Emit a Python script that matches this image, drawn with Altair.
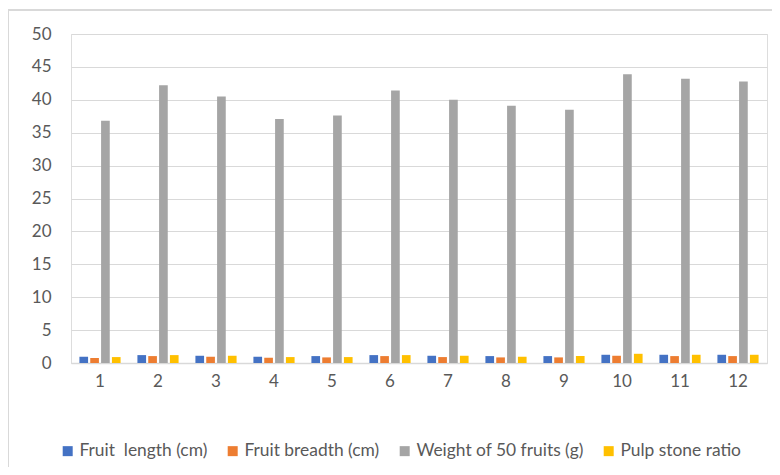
import altair as alt
import pandas as pd

categories = [str(i) for i in range(1, 13)]
series = ["Fruit\u00a0 length (cm)", "Fruit breadth (cm)", "Weight of 50 fruits (g)", "Pulp stone ratio"]
fruit_length = [0.95, 1.2, 1.1, 0.95, 1.05, 1.2, 1.1, 1.05, 1.05, 1.25, 1.25, 1.25]
fruit_breadth = [0.76, 1.05, 0.95, 0.8, 0.85, 1.05, 0.9, 0.85, 0.85, 1.1, 1.05, 1.05]
weight_50 = [36.8, 42.2, 40.5, 37.1, 37.6, 41.4, 40.0, 39.1, 38.5, 43.9, 43.2, 42.8]
pulp_stone = [0.9, 1.2, 1.1, 0.9, 0.9, 1.2, 1.1, 0.95, 1.05, 1.4, 1.25, 1.25]
colors = ["#4472C4", "#ED7D31", "#A5A5A5", "#FFC000"]

rows = []
for s, vals in zip(series, [fruit_length, fruit_breadth, weight_50, pulp_stone]):
    for c, v in zip(categories, vals):
        rows.append({"cat": c, "series": s, "value": v})
df = pd.DataFrame(rows)

FONT = "Lato"
FS = 17
LFS = 17.4
W, H = 696, 329

bars = alt.Chart(df).mark_bar().encode(
    x=alt.X("cat:N", sort=categories, title=None,
            scale=alt.Scale(paddingInner=0.29, paddingOuter=0.145),
            axis=alt.Axis(labelAngle=0, domainColor="#d9d9d9", domainWidth=1.5, ticks=False,
                          labelPadding=10, labelFontSize=FS, labelColor="#595959",
                          labelFont=FONT)),
    xOffset=alt.XOffset("series:N", sort=series, scale=alt.Scale(paddingInner=0.2)),
    y=alt.Y("value:Q", title=None,
            scale=alt.Scale(domain=[0, 50], nice=False),
            axis=alt.Axis(values=list(range(0, 51, 5)), domain=False, ticks=False,
                          gridColor="#d9d9d9", gridWidth=1.2, labelPadding=20,
                          labelFontSize=FS, labelColor="#595959", labelFont=FONT)),
    color=alt.Color("series:N", sort=series,
                    scale=alt.Scale(domain=series, range=colors),
                    legend=alt.Legend(title=None, orient="none", direction="horizontal",
                                      legendX=-12, legendY=408, symbolType="square",
                                      symbolSize=100, symbolStrokeWidth=0,
                                      labelFontSize=LFS, labelColor="#595959",
                                      labelFont=FONT, columnPadding=16, labelLimit=300,
                                      symbolOffset=0, labelOffset=3)),
)

border = alt.Chart(df).mark_rect(fill=None, stroke="#d9d9d9", strokeWidth=1.5).encode(
    x=alt.value(-63), x2=alt.value(W + 30), y=alt.value(-24), y2=alt.value(H + 150)
)

chart = alt.layer(bars, border).properties(
    width=W, height=H,
    autosize=alt.AutoSizeParams(type="none"),
    padding={"left": 63, "top": 26, "right": 5, "bottom": 104},
).configure_view(stroke=None).configure(background="white").configure_legend(
    labelFontSize=LFS, labelFont=FONT, labelColor="#595959"
)

chart.save("out.html", embed_options={"renderer": "svg", "actions": False})
